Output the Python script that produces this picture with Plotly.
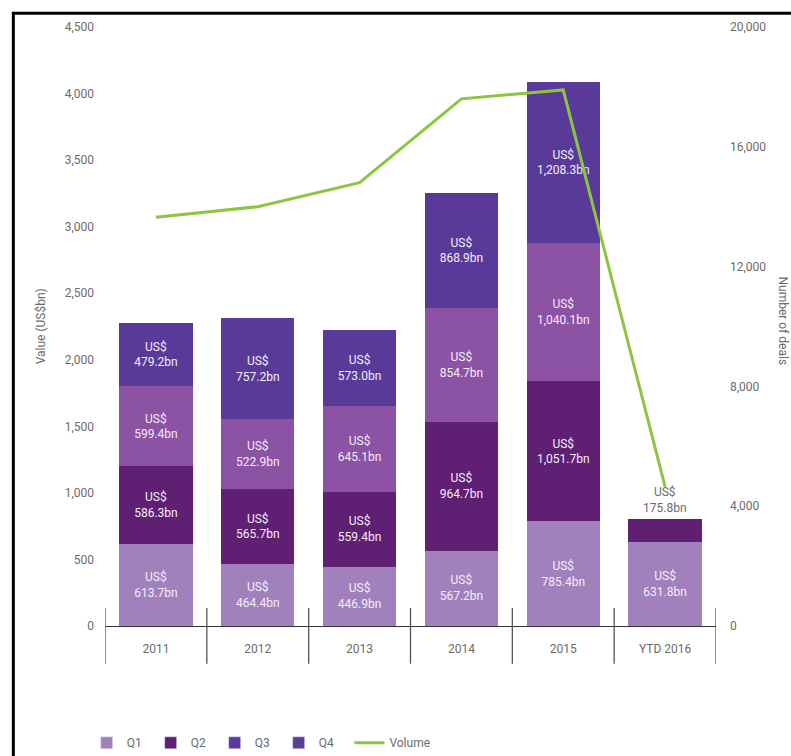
import plotly.graph_objects as go

categories = ["2011", "2012", "2013", "2014", "2015", "YTD 2016"]
q1 = [613.7, 464.4, 446.9, 567.2, 785.4, 631.8]
q2 = [586.3, 565.7, 559.4, 964.7, 1051.7, 175.8]
q3 = [599.4, 522.9, 645.1, 854.7, 1040.1, None]
q4 = [479.2, 757.2, 573.0, 868.9, 1208.3, None]
volume = [13650, 14000, 14800, 17600, 17900, 4650]

left_ticks = [0, 500, 1000, 1500, 2000, 2500, 3000, 3500, 4000, 4500]
right_ticks = [0, 4000, 8000, 12000, 16000, 20000]

bar_colors = ["#a181bc", "#5f1f72", "#8c52a3", "#5a3a99"]
legend_colors = ["#a181bc", "#5f1f72", "#5a3a9c", "#583e99"]
line_color = "#8cc63f"
FONT = "Roboto"

def lbl(v):
    return "" if v is None else f"US$<br>{v:,.1f}bn"

fig = go.Figure()
series = [("Q1", q1), ("Q2", q2), ("Q3", q3), ("Q4", q4)]
for i, (name, vals) in enumerate(series):
    texts = [lbl(v) for v in vals]
    if name == "Q2":
        texts[-1] = ""  # small segment labelled above
    fig.add_trace(go.Bar(
        x=categories, y=vals, name=name, showlegend=False,
        marker=dict(color=bar_colors[i], line=dict(width=0)),
        text=texts, textposition="inside", insidetextanchor="middle",
        textfont=dict(color="#f3eef8", size=12, family=FONT),
        constraintext="none", hoverinfo="skip",
    ))

# legend entries
for i, (name, _) in enumerate(series):
    fig.add_trace(go.Bar(x=[None], y=[None], name=name,
                         marker=dict(color=legend_colors[i]), showlegend=True))

fig.add_trace(go.Scatter(
    x=categories, y=volume, name="Volume", yaxis="y2", mode="lines",
    line=dict(color=line_color, width=3), cliponaxis=False, legend="legend2",
))

# label above the small YTD 2016 Q2 segment
tot16 = q1[-1] + q2[-1]
fig.add_annotation(x=categories[-1], y=tot16, yref="y", text=lbl(q2[-1]),
                   showarrow=False, yanchor="bottom", yshift=2,
                   font=dict(color="#6b6b6b", size=12, family=FONT))

# category separators below axis
for k in range(len(categories) + 1):
    fig.add_shape(type="line", xref="x", yref="paper",
                  x0=k - 0.5, x1=k - 0.5, y0=-0.063, y1=0.03,
                  line=dict(color="#555555", width=1.3))

# frame lines (top and left)
fig.add_shape(type="line", xref="paper", yref="paper", x0=-0.152, x1=1.2,
              y0=1.023, y1=1.023, line=dict(color="black", width=3))
fig.add_shape(type="line", xref="paper", yref="paper", x0=-0.150, x1=-0.150,
              y0=-0.3, y1=1.025, line=dict(color="black", width=3))

# axis titles
fig.add_annotation(x=-0.105, y=0.5, xref="paper", yref="paper", text="Value (US$bn)",
                   textangle=-90, showarrow=False, xanchor="center",
                   font=dict(size=12, color="#6b6b6b", family=FONT))
fig.add_annotation(x=1.095, y=0.51, xref="paper", yref="paper", text="Number of deals",
                   textangle=90, showarrow=False, xanchor="left",
                   font=dict(size=12, color="#6b6b6b", family=FONT))

fig.update_layout(
    width=791, height=756,
    margin=dict(l=105, r=75, t=27, b=130, autoexpand=False),
    barmode="stack", bargap=0.28,
    plot_bgcolor="white", paper_bgcolor="white",
    font=dict(family=FONT, color="#6b6b6b", size=12),
    xaxis=dict(showline=True, linecolor="#333333", linewidth=1, ticks="",
               tickfont=dict(size=12, color="#6b6b6b"), ticklabelstandoff=12,
               showgrid=False, range=[-0.5, 5.5]),
    yaxis=dict(range=[0, 4500], tickvals=left_ticks, tickformat=",",
               showgrid=False, zeroline=False, showline=False, ticks="",
               ticklabelstandoff=10, tickfont=dict(size=12, color="#6b6b6b")),
    yaxis2=dict(range=[0, 20000], tickvals=right_ticks, tickformat=",",
                overlaying="y", side="right", showgrid=False, zeroline=False,
                showline=False, ticks="", ticklabelstandoff=13,
                tickfont=dict(size=12, color="#6b6b6b")),
    legend=dict(orientation="h", x=-0.03, xanchor="left", y=-0.195, yanchor="middle",
                font=dict(size=12, color="#6b6b6b"), entrywidth=19,
                traceorder="normal", itemwidth=30),
    legend2=dict(orientation="h", x=0.4, xanchor="left", y=-0.195, yanchor="middle",
                 font=dict(size=12, color="#6b6b6b"), itemwidth=30),
    showlegend=True,
)

fig.write_html("out.html")
